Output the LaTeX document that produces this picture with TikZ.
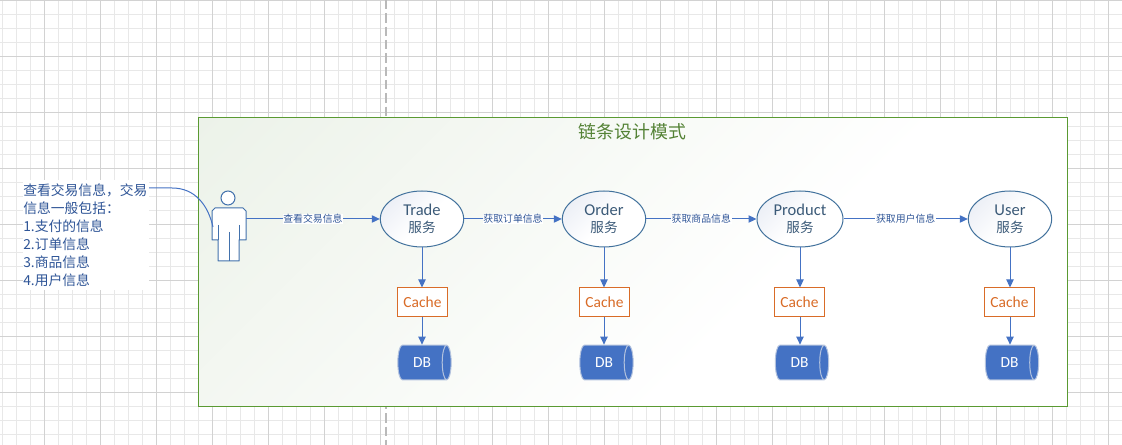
\documentclass[tikz,border=0pt]{standalone}
\usepackage{fontspec}
\setmainfont{Carlito}
\newfontfamily\cjk{Noto Sans CJK SC}
\usetikzlibrary{positioning,shapes.geometric,arrows.meta}

\definecolor{gridminor}{HTML}{E8E8E8}
\definecolor{gridmajor}{HTML}{D2D2D2}
\definecolor{panelgreen}{HTML}{5A9A32}
\definecolor{paneltint}{HTML}{E6EEE2}
\definecolor{svctint}{HTML}{E6EAF3}
\definecolor{titlegreen}{HTML}{548235}
\definecolor{linkblue}{HTML}{4472C4}
\definecolor{textblue}{HTML}{2F5597}
\definecolor{ringblue}{HTML}{41719C}
\definecolor{svctext}{HTML}{3B5A78}
\definecolor{cacheorange}{HTML}{D96C28}
\definecolor{dbedge}{HTML}{B4C3DE}

\pgfdeclarehorizontalshading{panelfade}{100bp}{
  color(0bp)=(white); color(40bp)=(white); color(100bp)=(paneltint)}
\pgfdeclarehorizontalshading{svcfade}{100bp}{
  color(0bp)=(white); color(48bp)=(white); color(85bp)=(svctint); color(100bp)=(svctint)}

\begin{document}
\begin{tikzpicture}[x=0.75pt,y=-0.75pt,
  % common options for the services:
  svc/.style = {ellipse, draw=ringblue, shading=svcfade, shading angle=135, align=center,
              minimum width=62.5pt, minimum height=42pt, inner sep=0, text=svctext,
              font=\fontsize{12.4}{12.9}\selectfont, line width=0.75pt},
  % cache boxes and the drums under them:
  cachebox/.style = {draw=cacheorange, fill=white, text=cacheorange, line width=0.75pt,
              minimum width=37.5pt, minimum height=21.75pt, inner sep=0,
              font=\fontsize{11.6}{12}\selectfont},
  drum/.style = {cylinder, draw=dbedge, fill=linkblue, text=white, aspect=0.9,
              minimum height=40pt, minimum width=26pt, inner sep=0, line width=0.75pt,
              font=\fontsize{11.6}{12}\selectfont},
  link/.style = {-{Triangle[length=6pt,width=5.5pt]}, draw=linkblue, line width=0.75pt},
  tag/.style = {fill=white, text=textblue, inner sep=0.5pt, font=\cjk\fontsize{7.4}{8}\selectfont}
	]
  \useasboundingbox (0,0) rectangle (1122,445);

  % paper grid
  \fill[white] (0,0) rectangle (1122,445);
  \foreach \gx in {2,16,...,1122} \draw[gridminor,line width=0.75pt] (\gx,0) -- (\gx,445);
  \foreach \gy in {1,15,...,445} \draw[gridminor,line width=0.75pt] (0,\gy) -- (1122,\gy);
  \foreach \gx in {44,100,...,1122} \draw[gridmajor,line width=0.75pt] (\gx,0) -- (\gx,445);
  \foreach \gy in {1,57,...,445} \draw[gridmajor,line width=0.75pt] (0,\gy) -- (1122,\gy);
  \draw[gray!55,dashed,dash pattern=on 7pt off 3pt,line width=0.9pt] (386,0) -- (386,445);

  % the panel
  \node[draw=panelgreen, line width=0.75pt, shading=panelfade, shading angle=135,
    minimum width=651.75pt, minimum height=216.75pt, inner sep=0] (Panel) at (632.5,262.5) {};
  \node[text=titlegreen, font=\cjk\fontsize{13.4}{15}\selectfont] (Title) at (632.5,132) {链条设计模式};

  % side note
  \node[fill=white, text=textblue, align=left, anchor=north west, inner sep=0,
    text width=94.5pt, minimum height=82pt, font=\cjk\fontsize{10.35}{13.5}\selectfont] (Note) at (23,180)
    {查看交易信息，交易\\信息一般包括：\\1.支付的信息\\2.订单信息\\3.商品信息\\4.用户信息};

  % the person
  \draw[ringblue!60!linkblue,fill=white,line width=0.75pt] (228,198) circle[radius=7];
  \draw[ringblue!60!linkblue,fill=white,line width=0.75pt,line join=round]
    (215,208) -- (243,208) -- (246,211) -- (246,240) -- (239,240) -- (239,261) -- (218,261)
    -- (218,240) -- (212,240) -- (212,211) -- cycle;
  \draw[ringblue!60!linkblue,line width=0.75pt] (218,225) -- (218,240) (239,225) -- (239,240) (229,232) -- (229,261);
  \coordinate (PersonOut) at (246,219);
  \coordinate (PersonIn) at (213,227);
  \coordinate (NoteOut) at (149,188);

  % services
  \node[svc] (Trade) at (422,219) {Trade\\{\cjk\fontsize{10.2}{12.9}\selectfont 服务}};
  \node[svc] (Order) at (604,219) {Order\\{\cjk\fontsize{10.2}{12.9}\selectfont 服务}};
  \node[svc, minimum width=64.5pt] (Product) at (800,219) {Product\\{\cjk\fontsize{10.2}{12.9}\selectfont 服务}};
  \node[svc] (User) at (1010,219) {User\\{\cjk\fontsize{10.2}{12.9}\selectfont 服务}};

  % caches
  \node[cachebox] (CacheA) at (422.5,302.5) {Cache};
  \node[cachebox] (CacheB) at (604.5,302.5) {Cache};
  \node[cachebox] (CacheC) at (799.5,302.5) {Cache};
  \node[cachebox] (CacheD) at (1009.5,302.5) {Cache};

  % databases
  \node[drum] (DbA) at (422,362.5) {DB};
  \node[drum] (DbB) at (604,362.5) {DB};
  \node[drum] (DbC) at (799.5,362.5) {DB};
  \node[drum] (DbD) at (1009.5,362.5) {DB};

  % connectors
  \draw[draw=linkblue,line width=0.75pt] (NoteOut) -- (172,188) .. controls (195,188) and (208,205) .. (PersonIn);

  \draw[link] (PersonOut) -- (Trade.west)
    node[midway,tag] (TagA) {查看交易信息};
  \draw[link] (Trade.east) -- (Order.west)
    node[midway,tag] (TagB) {获取订单信息};
  \draw[link] (Order.east) -- (Product.west)
    node[midway,tag] (TagC) {获取商品信息};
  \draw[link] (Product.east) -- (User.west)
    node[midway,tag] (TagD) {获取用户信息};

  \foreach \svcname/\cachename/\dbname in {Trade/CacheA/DbA,Order/CacheB/DbB,Product/CacheC/DbC,User/CacheD/DbD} {
    \draw[link] (\svcname.south) -- (\svcname.south |- \cachename.north);
    \draw[link] (\svcname.south |- \cachename.south) -- (\svcname.south |- \dbname.north);
  }
\end{tikzpicture}
\end{document}
